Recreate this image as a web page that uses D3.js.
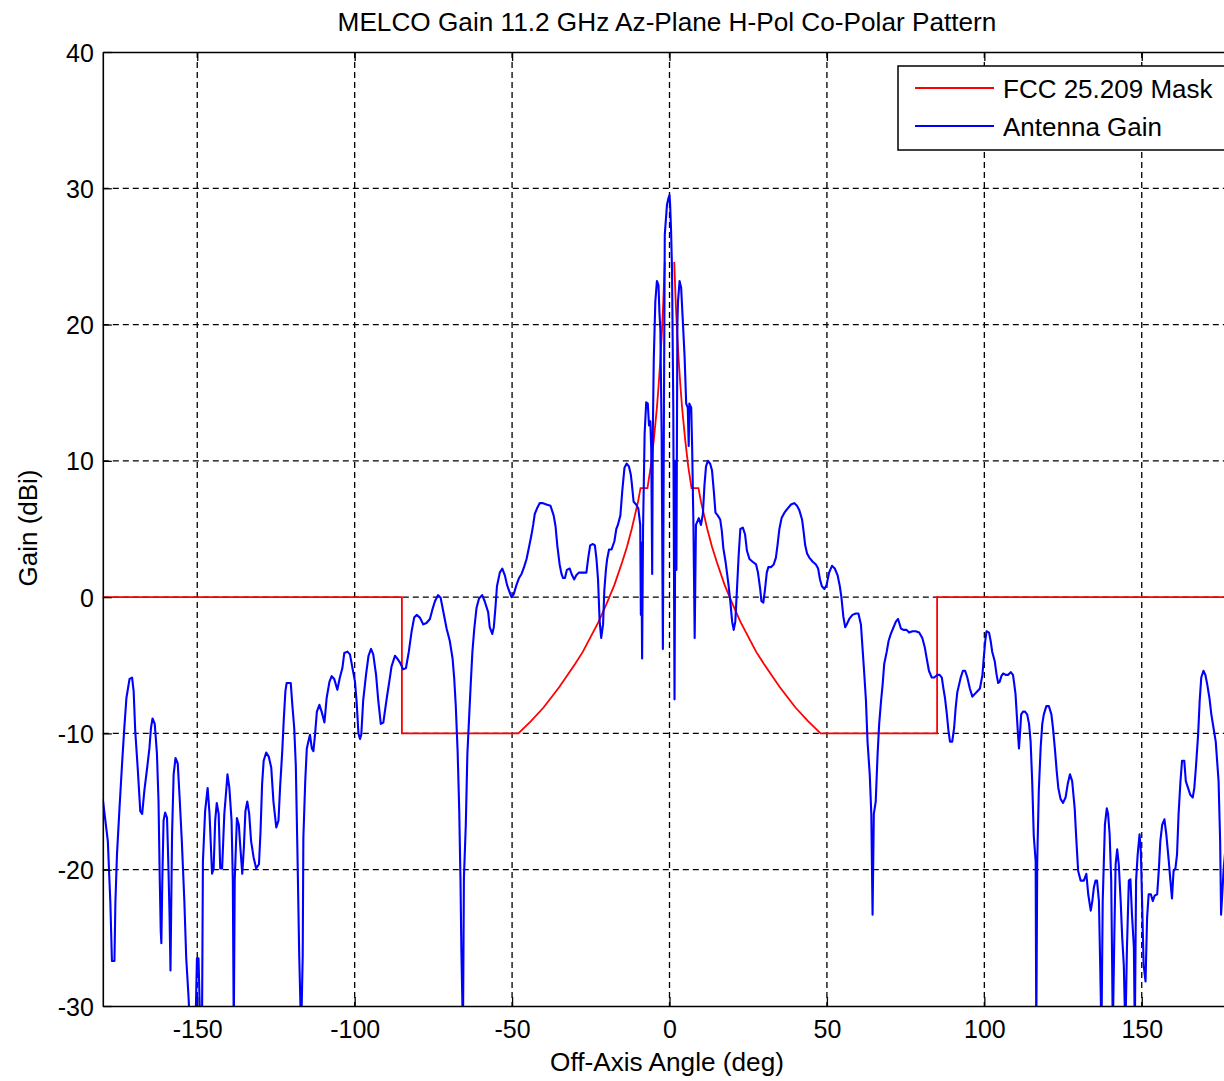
<!DOCTYPE html>
<html>
<head>
<meta charset="utf-8">
<script src="https://cdn.jsdelivr.net/npm/d3@7"></script>
<style>
  body { margin: 0; background: #fff; }
  text { font-family: "Liberation Sans", Arial, sans-serif; fill: #000; }
</style>
</head>
<body>
<svg id="chart" width="1224" height="1081"></svg>
<script>
// Axis ticks
const xTicks = [-150, -100, -50, 0, 50, 100, 150];
const yTicks = [-30, -20, -10, 0, 10, 20, 30, 40];

const titleText = "MELCO Gain 11.2 GHz Az-Plane H-Pol Co-Polar Pattern";
const xLabel = "Off-Axis Angle (deg)";
const yLabel = "Gain (dBi)";
const seriesNames = ["FCC 25.209 Mask", "Antenna Gain"];

// FCC 25.209 off-axis mask (deg, dBi); null splits the two halves around boresight
const maskAngle = [-180, -85, -85, -48, -44, -40, -35, -30, -27.5, -25, -22.5, -20, -17.5, -15, -13.5, -12, -11, -10, -9.2, -7, -6, -5, -4, -3.5, -3, -2.5, -2, -1.5,
  null,
  1.5, 2, 2.5, 3, 3.5, 4, 5, 6, 7, 9.2, 10, 11, 12, 13.5, 15, 17.5, 20, 22.5, 25, 27.5, 30, 35, 40, 44, 48, 85, 85, 180];
const maskGain = [0, 0, -10, -10, -9.1, -8.1, -6.6, -4.9, -4.0, -2.9, -1.8, -0.5, 0.9, 2.6, 3.7, 5.0, 6.0, 7.0, 8.0, 8.0, 9.5, 11.5, 13.9, 15.4, 17.1, 19.1, 21.5, 24.6,
  null,
  24.6, 21.5, 19.1, 17.1, 15.4, 13.9, 11.5, 9.5, 8.0, 8.0, 7.0, 6.0, 5.0, 3.7, 2.6, 0.9, -0.5, -1.8, -2.9, -4.0, -4.9, -6.6, -8.1, -9.1, -10, -10, 0, 0];

// Measured azimuth-plane co-polar gain (deg, dBi)
const gainAngle = [
  -180, -179.5, -178.4, -177.6, -177.1, -176.3, -176.0, -175.5, -174.7, -173.9,
  -173.2, -172.5, -171.5, -170.7, -170.2, -169.7, -168.9, -168.1, -167.5, -166.8,
  -165.9, -165.2, -164.7, -164.2, -163.5, -162.8, -162.3, -161.9, -161.6, -161.4,
  -161.1, -160.7, -160.2, -159.6, -159.2, -158.8, -158.5, -158.0, -157.5, -156.9,
  -156.2, -155.6, -154.9, -154.1, -153.5, -152.8, -152.2, -150.6, -150.1, -149.6,
  -149.0, -148.5, -148.2, -147.5, -146.7, -146.1, -145.3, -144.8, -144.3, -143.8,
  -143.2, -142.7, -142.1, -141.4, -140.8, -140.4, -139.8, -139.1, -138.7, -138.4,
  -138.1, -137.4, -136.8, -136.3, -135.7, -135.2, -134.7, -134.1, -133.5, -132.9,
  -132.1, -131.3, -130.4, -129.9, -129.4, -128.9, -128.1, -127.3, -126.5, -125.8,
  -124.9, -124.2, -123.7, -123.0, -122.5, -122.0, -121.6, -120.3, -119.8, -119.2,
  -118.7, -118.2, -117.6, -117.0, -116.5, -116.3, -115.7, -115.2, -114.7, -114.2,
  -113.6, -113.1, -112.6, -112.0, -111.2, -110.5, -109.6, -108.9, -108.0, -107.3,
  -106.5, -105.5, -104.7, -103.9, -103.3, -102.3, -101.5, -100.7, -99.9, -99.4,
  -98.8, -98.3, -97.9, -97.3, -96.4, -95.6, -94.8, -94.1, -93.2, -92.5,
  -91.7, -90.9, -89.8, -89.0, -88.3, -87.2, -86.5, -85.6, -84.6, -83.7,
  -82.8, -81.9, -81.1, -80.3, -79.3, -78.2, -77.2, -76.1, -75.3, -74.5,
  -73.5, -72.7, -71.9, -70.8, -69.8, -68.9, -68.4, -67.9, -67.3, -66.8,
  -66.4, -66.1, -65.6, -65.3, -64.7, -64.2, -63.6, -63.1, -62.6, -62.0,
  -61.3, -60.5, -59.5, -58.7, -57.6, -57.1, -56.3, -55.8, -55.3, -54.8,
  -53.9, -53.1, -52.3, -51.6, -51.0, -50.2, -49.5, -48.6, -47.8, -47.0,
  -46.2, -45.4, -44.6, -43.9, -43.3, -42.8, -42.1, -41.2, -40.4, -39.1,
  -37.8, -36.8, -36.2, -35.6, -34.9, -34.3, -33.8, -33.2, -32.6, -31.7,
  -31.1, -30.3, -29.6, -28.8, -27.5, -26.4, -25.8, -25.2, -24.3, -23.7,
  -23.2, -22.7, -22.2, -21.7, -21.1, -20.7, -20.2, -19.8, -19.2, -18.4,
  -17.5, -16.9, -16.4, -15.6, -15.0, -14.3, -13.6, -12.9, -12.3, -12.0,
  -11.4, -10.6, -9.9, -9.3, -9.1, -8.95, -8.7, -8.4, -7.9, -7.4,
  -6.9, -6.5, -6.1, -5.8, -5.5, -5.3, -5.0, -4.5, -4.0, -3.5,
  -3.2, -2.9, -2.5, -2.1, -1.8, -1.5, -0.8, -0.3, 0, 0.2,
  0.5, 0.8, 1.2, 1.6, 1.9, 2.2, 2.5, 2.7, 3.2, 3.7,
  4.2, 4.8, 5.3, 5.8, 6.1, 6.3, 6.9, 7.2, 7.6, 8.0,
  8.4, 9.3, 10.0, 10.6, 11.1, 11.6, 12.2, 12.9, 13.5, 14.1,
  14.6, 15.3, 16.1, 16.6, 17.1, 17.8, 18.3, 18.8, 19.3, 19.9,
  20.4, 20.9, 21.5, 22.0, 22.5, 23.3, 24.0, 24.6, 25.4, 26.4,
  27.5, 28.1, 28.8, 29.2, 29.8, 30.3, 30.9, 31.4, 32.2, 33.1,
  33.8, 34.3, 34.9, 35.6, 36.5, 37.5, 38.6, 39.6, 40.5, 41.2,
  42.1, 42.6, 43.1, 43.7, 44.4, 45.5, 46.5, 47.2, 47.8, 48.4,
  49.2, 49.9, 50.7, 51.6, 52.5, 53.4, 54.1, 54.6, 55.2, 55.8,
  56.3, 57.1, 58.1, 59.2, 60.0, 60.8, 61.3, 61.8, 62.4, 62.9,
  63.6, 64.1, 64.5, 64.9, 65.5, 66.1, 66.6, 67.2, 67.7, 68.2,
  69.0, 69.6, 70.3, 71.0, 71.9, 72.6, 73.5, 74.3, 75.3, 76.1,
  77.2, 78.2, 79.3, 80.3, 81.1, 81.7, 82.4, 83.3, 84.1, 85.1,
  85.8, 86.5, 87.0, 87.5, 88.1, 88.6, 89.1, 89.8, 90.4, 90.9,
  91.4, 92.0, 92.5, 93.2, 93.9, 94.6, 95.4, 96.2, 97.0, 97.8,
  98.6, 99.4, 99.8, 100.3, 100.7, 101.5, 102.0, 102.5, 103.3, 103.9,
  104.4, 104.9, 105.4, 106.0, 106.8, 107.6, 108.4, 109.1, 109.4, 109.9,
  110.3, 110.7, 111.0, 111.3, 111.7, 112.3, 112.9, 113.6, 114.2, 114.7,
  115.2, 115.7, 116.3, 116.5, 116.8, 117.3, 117.9, 118.4, 118.9, 119.7,
  120.5, 121.3, 121.8, 122.4, 123.0, 123.5, 124.2, 125.0, 125.8, 126.5,
  127.2, 127.9, 128.7, 129.2, 129.8, 130.6, 131.6, 132.4, 133.0, 133.8,
  134.3, 134.8, 135.3, 135.8, 136.4, 136.8, 137.2, 137.6, 138.3, 138.9,
  139.3, 139.8, 140.3, 140.6, 140.8, 141.3, 141.7, 142.2, 142.7, 143.3,
  143.8, 144.3, 144.8, 145.3, 145.9, 146.4, 146.9, 147.5, 147.8, 148.2,
  148.7, 149.3, 149.7, 150.1, 150.6, 151.2, 151.7, 152.2, 152.9, 153.5,
  154.1, 154.9, 155.4, 155.9, 156.5, 157.2, 157.8, 158.6, 159.1, 159.6,
  160.1, 160.7, 161.2, 161.7, 162.3, 162.8, 163.5, 164.0, 164.7, 165.4,
  166.2, 166.7, 167.2, 167.9, 168.4, 168.9, 169.6, 170.2, 170.8, 171.5,
  172.1, 172.8, 173.5, 174.4, 174.9, 175.2, 176.0, 177.5, 179.0, 180.0
];
const gainDb = [
  -14.8, -15.8, -17.9, -22.4, -26.7, -26.7, -22.4, -18.9, -15.5, -12.3,
  -9.7, -7.4, -6.0, -5.9, -6.9, -9.8, -12.6, -15.7, -15.9, -14.2,
  -12.5, -11.1, -9.6, -8.9, -9.3, -11.5, -15.0, -20.8, -24.5, -25.4,
  -20.8, -16.4, -15.8, -16.2, -19.4, -23.3, -27.4, -17.4, -13.0, -11.8,
  -12.2, -14.7, -17.9, -22.3, -26.5, -29.2, -32, -32, -26.5, -26.5,
  -32, -32, -19.4, -15.7, -14.0, -15.9, -20.3, -19.9, -16.4, -15.1,
  -15.9, -19.9, -19.9, -15.9, -14.2, -13.0, -14.0, -16.4, -20.8, -32,
  -20.8, -16.2, -16.7, -18.4, -20.3, -18.4, -15.7, -15.0, -15.9, -17.9,
  -19.1, -19.9, -19.6, -17.2, -13.7, -12.0, -11.4, -11.7, -12.5, -15.0,
  -16.9, -16.4, -14.0, -11.3, -8.9, -6.9, -6.3, -6.3, -7.9, -9.6,
  -12.3, -18.4, -26.4, -32, -26.3, -17.7, -13.5, -11.1, -10.6, -10.1,
  -11.1, -11.3, -10.1, -8.4, -7.9, -8.4, -9.2, -7.4, -6.2, -5.8,
  -6.0, -6.8, -5.9, -5.2, -4.1, -4.0, -4.2, -5.2, -6.2, -7.6,
  -10.0, -10.4, -10.1, -7.6, -5.7, -4.3, -3.8, -4.2, -5.7, -7.6,
  -9.3, -9.2, -7.4, -6.2, -5.1, -4.3, -4.5, -4.8, -5.3, -5.2,
  -4.0, -2.5, -1.5, -1.3, -1.5, -2.0, -1.9, -1.6, -0.9, -0.3,
  0.15, -0.05, -1.0, -2.3, -3.2, -4.5, -5.9, -7.9, -11.3, -15.5,
  -20.6, -26.0, -32, -20.6, -16.7, -11.5, -8.6, -6.2, -4.0, -2.3,
  -0.8, -0.1, 0.15, -0.3, -1.1, -2.2, -2.7, -2.2, -0.8, 0.8,
  1.8, 2.1, 1.6, 0.9, 0.5, 0.0, 0.2, 0.9, 1.4, 1.7,
  2.2, 2.8, 3.7, 4.5, 5.3, 6.1, 6.5, 6.9, 6.9, 6.8,
  6.7, 6.0, 5.2, 3.7, 2.4, 1.7, 1.4, 1.4, 2.0, 2.1,
  1.7, 1.3, 1.6, 1.8, 1.8, 1.8, 2.9, 3.8, 3.9, 3.8,
  2.8, 1.3, -1.7, -3.0, -2.0, 0.5, 2.0, 2.8, 3.5, 3.5,
  4.1, 5.0, 5.3, 6.0, 7.8, 9.5, 9.8, 9.6, 9.0, 8.4,
  7.0, 6.8, 6.5, 5.3, -1.3, 4.0, -4.5, 5.0, 12.0, 14.3,
  14.2, 12.6, 12.9, 10.9, 1.7, 12.0, 17.4, 21.7, 23.2, 22.9,
  20.9, 19.6, 12.0, -3.8, 12.0, 26.6, 28.8, 29.3, 29.5, 28.8,
  26.9, 24.0, 14.0, -7.5, 10.0, 2.0, 20.0, 21.7, 23.2, 22.7,
  20.4, 17.6, 14.2, 13.9, 11.1, 14.2, 13.9, 10.9, 5.3, -3.0,
  5.3, 5.8, 5.3, 6.1, 8.2, 9.6, 10.0, 9.8, 9.3, 7.7,
  6.2, 6.0, 5.7, 4.9, 3.6, 2.6, 1.7, 0.8, -0.3, -1.8,
  -2.4, -1.8, 0.9, 3.2, 5.0, 5.1, 4.6, 3.4, 2.8, 2.6,
  2.4, 1.8, 0.6, -0.3, -0.4, 0.5, 1.8, 2.2, 2.2, 2.4,
  2.9, 3.8, 5.0, 5.8, 6.2, 6.5, 6.8, 6.9, 6.7, 6.4,
  5.7, 4.8, 3.8, 3.2, 2.9, 2.6, 2.4, 2.1, 1.3, 0.8,
  0.6, 0.9, 1.8, 2.3, 2.1, 1.6, 0.8, 0.0, -1.4, -2.2,
  -2.0, -1.6, -1.3, -1.2, -1.2, -2.0, -3.7, -5.4, -7.6, -10.6,
  -13.0, -15.9, -23.3, -15.9, -15.0, -11.5, -9.3, -7.6, -6.4, -4.9,
  -4.0, -3.2, -2.7, -2.3, -1.8, -1.6, -2.3, -2.4, -2.4, -2.6,
  -2.5, -2.5, -2.6, -3.0, -3.7, -4.5, -5.4, -5.9, -5.9, -5.7,
  -5.7, -5.9, -6.7, -7.4, -8.6, -9.8, -10.6, -10.6, -9.6, -8.1,
  -7.0, -6.4, -5.9, -5.4, -5.4, -5.9, -6.7, -7.3, -7.1, -6.9,
  -6.7, -5.7, -4.5, -3.2, -2.5, -2.6, -3.2, -4.0, -4.7, -5.7,
  -6.3, -6.2, -5.8, -5.6, -5.7, -5.7, -5.5, -5.7, -6.2, -7.1,
  -8.6, -10.1, -11.1, -10.1, -8.6, -8.4, -8.4, -8.6, -9.3, -10.6,
  -13.5, -17.5, -19.4, -32, -19.4, -14.2, -11.0, -9.3, -8.6, -8.0,
  -8.0, -8.6, -9.6, -11.1, -12.8, -14.0, -14.8, -15.1, -14.7, -13.7,
  -13.0, -13.5, -15.5, -17.7, -20.1, -20.8, -20.8, -20.3, -21.8, -23.0,
  -22.3, -21.3, -20.8, -20.8, -22.3, -27.0, -32, -22.3, -16.7, -15.5,
  -15.9, -17.4, -20.8, -27.0, -32, -24.7, -19.6, -18.5, -19.6, -22.3,
  -25.0, -27.0, -32, -25.7, -20.8, -20.7, -23.3, -25.7, -32, -20.8,
  -18.9, -17.4, -18.6, -22.3, -27.0, -28.2, -23.5, -21.8, -21.8, -22.3,
  -21.9, -21.8, -20.1, -17.9, -16.7, -16.3, -17.4, -19.4, -20.8, -22.1,
  -20.1, -19.9, -18.9, -15.9, -13.5, -12.0, -12.0, -13.5, -14.0, -14.5,
  -14.7, -14.0, -12.5, -10.1, -7.6, -5.9, -5.4, -5.7, -6.4, -7.4,
  -8.6, -9.6, -10.6, -13.5, -17.9, -23.3, -20.0, -16.0, -15.0, -14.8
];

const svg = d3.select("#chart");
const W = 1224, H = 1081;
const plot = { left: 102.8, right: 1236.2, top: 52, bottom: 1006 };

const x = d3.scaleLinear().domain([-180, 180]).range([plot.left, plot.right]);
const y = d3.scaleLinear().domain([-30, 40]).range([plot.bottom, plot.top]);

svg.append("rect").attr("width", W).attr("height", H).attr("fill", "#fff");

svg.append("defs").append("clipPath").attr("id", "plotClip")
  .append("rect")
  .attr("x", plot.left).attr("y", plot.top)
  .attr("width", plot.right - plot.left).attr("height", plot.bottom - plot.top);

// Dashed grid
const grid = svg.append("g").attr("stroke", "#000").attr("stroke-width", 1.3)
  .attr("stroke-dasharray", "6,4").attr("fill", "none");
grid.selectAll("line.gx").data(xTicks).join("line").attr("class", "gx")
  .attr("x1", d => x(d)).attr("x2", d => x(d))
  .attr("y1", plot.top).attr("y2", plot.bottom);
grid.selectAll("line.gy").data(yTicks.filter(v => v > -30 && v < 40)).join("line").attr("class", "gy")
  .attr("y1", d => y(d)).attr("y2", d => y(d))
  .attr("x1", plot.left).attr("x2", plot.right);

// Series
const maskPts = maskAngle.map((a, i) => [a, maskGain[i]]);
const gainPts = gainAngle.map((a, i) => [a, gainDb[i]]);
const line = d3.line()
  .defined(d => d[0] !== null && d[1] !== null)
  .x(d => x(d[0])).y(d => y(d[1]));

const series = svg.append("g").attr("clip-path", "url(#plotClip)");
series.append("path").datum(maskPts)
  .attr("d", line).attr("fill", "none").attr("stroke", "#ff0000")
  .attr("stroke-width", 1.8).attr("stroke-linejoin", "miter");
series.append("path").datum(gainPts)
  .attr("d", line).attr("fill", "none").attr("stroke", "#0000ff")
  .attr("stroke-width", 2.1).attr("stroke-linejoin", "round");

// Axes with inward ticks on all four sides; labels use a plain hyphen for negatives
const tickLen = 9;
const fs = 25;
const plainNum = d => String(d);
const gx = svg.append("g").attr("transform", `translate(0,${plot.bottom})`)
  .call(d3.axisBottom(x).tickValues(xTicks).tickFormat(plainNum).tickSizeInner(-tickLen).tickSizeOuter(0).tickPadding(14));
const gxTop = svg.append("g").attr("transform", `translate(0,${plot.top})`)
  .call(d3.axisTop(x).tickValues(xTicks).tickSizeInner(-tickLen).tickSizeOuter(0).tickFormat(""));
const gy = svg.append("g").attr("transform", `translate(${plot.left},0)`)
  .call(d3.axisLeft(y).tickValues(yTicks).tickFormat(plainNum).tickSizeInner(-tickLen).tickSizeOuter(0).tickPadding(9));
const gyRight = svg.append("g").attr("transform", `translate(${plot.right},0)`)
  .call(d3.axisRight(y).tickValues(yTicks).tickSizeInner(-tickLen).tickSizeOuter(0).tickFormat(""));

[gx, gxTop, gy, gyRight].forEach(g => {
  g.select(".domain").attr("stroke", "#000").attr("stroke-width", 1.6);
  g.selectAll(".tick line").attr("stroke", "#000").attr("stroke-width", 1.3);
  g.selectAll(".tick text").attr("font-size", fs).attr("font-family", "Liberation Sans, Arial, sans-serif").attr("fill", "#000");
});
gy.selectAll(".tick text").attr("dy", "0.36em");

// Titles
svg.append("text").attr("x", 667).attr("y", 31)
  .attr("text-anchor", "middle").attr("font-size", 26.2).text(titleText);
svg.append("text").attr("x", 667).attr("y", 1071)
  .attr("text-anchor", "middle").attr("font-size", 26.2).text(xLabel);
svg.append("text").attr("transform", "translate(37,528) rotate(-90)")
  .attr("text-anchor", "middle").attr("font-size", 26).text(yLabel);

// Legend
const legend = svg.append("g");
legend.append("rect").attr("x", 898).attr("y", 66).attr("width", 332).attr("height", 84)
  .attr("fill", "#fff").attr("stroke", "#000").attr("stroke-width", 1.5);
const legendColors = ["#ff0000", "#0000ff"];
const legendY = [88, 126];
seriesNames.forEach((name, i) => {
  legend.append("line").attr("x1", 915).attr("x2", 994)
    .attr("y1", legendY[i]).attr("y2", legendY[i])
    .attr("stroke", legendColors[i]).attr("stroke-width", 1.8);
  legend.append("text").attr("x", 1003).attr("y", legendY[i] + 10)
    .attr("font-size", 26).text(name);
});
</script>
</body>
</html>
